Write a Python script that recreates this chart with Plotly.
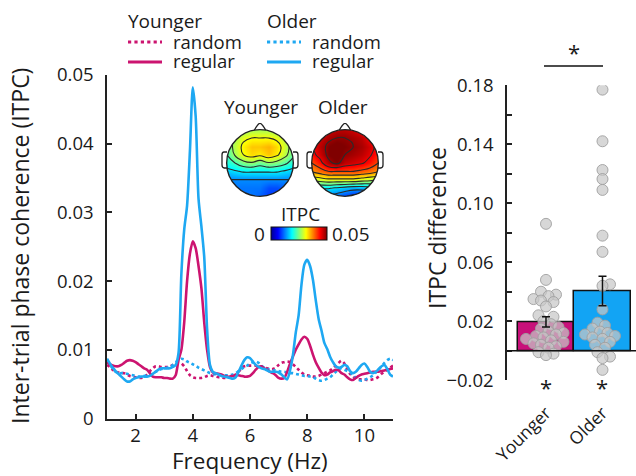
import numpy as np
import plotly.graph_objects as go

# ---------------- data ----------------
freq = [round(1.0 + 0.1 * i, 1) for i in range(101)]

younger_regular = [
    0.0082, 0.0079, 0.0077, 0.0076, 0.0076, 0.0078, 0.0081, 0.0084, 0.0085, 0.0084,
    0.0082, 0.0079, 0.0076, 0.0073, 0.0071, 0.0066, 0.0061, 0.0060, 0.0060, 0.0060,
    0.0059, 0.0059, 0.0058, 0.0058, 0.0063, 0.0085, 0.0100, 0.0140, 0.0200, 0.0240,
    0.0258, 0.0248, 0.0222, 0.0190, 0.0140, 0.0100, 0.0075, 0.0067, 0.0066, 0.0065,
    0.0064, 0.0062, 0.0061, 0.0061, 0.0062, 0.0063, 0.0063, 0.0062, 0.0061, 0.0061,
    0.0062, 0.0066, 0.0071, 0.0075, 0.0076, 0.0073, 0.0071, 0.0068, 0.0066, 0.0063,
    0.0059, 0.0058, 0.0059, 0.0068, 0.0080, 0.0090, 0.0100, 0.0108, 0.0115, 0.0119,
    0.0116, 0.0106, 0.0093, 0.0082, 0.0074, 0.0067, 0.0063, 0.0064, 0.0067, 0.0069,
    0.0071, 0.0070, 0.0066, 0.0064, 0.0060, 0.0057, 0.0056, 0.0059, 0.0062, 0.0064,
    0.0065, 0.0066, 0.0067, 0.0068, 0.0068, 0.0068, 0.0069, 0.0070, 0.0071, 0.0072,
    0.0073,
]
younger_random = [
    0.0078, 0.0075, 0.0071, 0.0068, 0.0067, 0.0066, 0.0066, 0.0064, 0.0062, 0.0061,
    0.0060, 0.0059, 0.0059, 0.0060, 0.0064, 0.0069, 0.0073, 0.0076, 0.0076, 0.0075,
    0.0075, 0.0075, 0.0076, 0.0078, 0.0080, 0.0081, 0.0080, 0.0076, 0.0069, 0.0063,
    0.0060, 0.0059, 0.0059, 0.0059, 0.0060, 0.0062, 0.0063, 0.0062, 0.0061, 0.0060,
    0.0060, 0.0059, 0.0059, 0.0060, 0.0062, 0.0064, 0.0068, 0.0073, 0.0076, 0.0077,
    0.0077, 0.0077, 0.0077, 0.0076, 0.0075, 0.0074, 0.0073, 0.0072, 0.0072, 0.0074,
    0.0078, 0.0081, 0.0082, 0.0083, 0.0082, 0.0079, 0.0075, 0.0071, 0.0067, 0.0064,
    0.0063, 0.0062, 0.0061, 0.0061, 0.0062, 0.0064, 0.0066, 0.0068, 0.0070, 0.0073,
    0.0077, 0.0081, 0.0084, 0.0080, 0.0072, 0.0065, 0.0061, 0.0058, 0.0057, 0.0057,
    0.0057, 0.0056, 0.0056, 0.0057, 0.0058, 0.0061, 0.0065, 0.0068, 0.0071, 0.0074,
    0.0077,
]
older_regular = [
    0.0087, 0.0080, 0.0074, 0.0069, 0.0065, 0.0061, 0.0057, 0.0054, 0.0054, 0.0057,
    0.0059, 0.0060, 0.0061, 0.0061, 0.0061, 0.0062, 0.0065, 0.0068, 0.0071, 0.0073,
    0.0073, 0.0073, 0.0073, 0.0075, 0.0078, 0.0095, 0.0210, 0.0275, 0.0310, 0.0390,
    0.0482, 0.0440, 0.0320, 0.0280, 0.0235, 0.0130, 0.0078, 0.0068, 0.0066, 0.0064,
    0.0062, 0.0061, 0.0060, 0.0059, 0.0058, 0.0060, 0.0068, 0.0077, 0.0085, 0.0089,
    0.0088, 0.0083, 0.0078, 0.0075, 0.0073, 0.0072, 0.0070, 0.0068, 0.0068, 0.0068,
    0.0067, 0.0064, 0.0060, 0.0057, 0.0070, 0.0092, 0.0125, 0.0150, 0.0195, 0.0224,
    0.0231, 0.0222, 0.0202, 0.0172, 0.0145, 0.0128, 0.0110, 0.0101, 0.0090, 0.0082,
    0.0076, 0.0074, 0.0075, 0.0078, 0.0076, 0.0069, 0.0066, 0.0068, 0.0073, 0.0078,
    0.0080, 0.0075, 0.0068, 0.0066, 0.0068, 0.0072, 0.0076, 0.0078, 0.0072, 0.0064,
    0.0061,
]
older_random = [
    0.0083, 0.0078, 0.0073, 0.0068, 0.0066, 0.0066, 0.0066, 0.0065, 0.0064, 0.0063,
    0.0062, 0.0061, 0.0061, 0.0062, 0.0063, 0.0063, 0.0066, 0.0068, 0.0070, 0.0072,
    0.0073, 0.0074, 0.0075, 0.0078, 0.0082, 0.0085, 0.0087, 0.0086, 0.0083, 0.0081,
    0.0079, 0.0077, 0.0074, 0.0072, 0.0070, 0.0068, 0.0066, 0.0065, 0.0064, 0.0063,
    0.0063, 0.0063, 0.0063, 0.0063, 0.0064, 0.0066, 0.0069, 0.0072, 0.0075, 0.0077,
    0.0080, 0.0082, 0.0083, 0.0081, 0.0077, 0.0074, 0.0072, 0.0071, 0.0070, 0.0070,
    0.0069, 0.0068, 0.0068, 0.0067, 0.0066, 0.0066, 0.0065, 0.0064, 0.0063, 0.0062,
    0.0062, 0.0061, 0.0060, 0.0058, 0.0056, 0.0055, 0.0056, 0.0058, 0.0060, 0.0064,
    0.0068, 0.0072, 0.0073, 0.0071, 0.0069, 0.0067, 0.0063, 0.0059, 0.0056, 0.0055,
    0.0056, 0.0058, 0.0060, 0.0063, 0.0067, 0.0071, 0.0076, 0.0081, 0.0085, 0.0087,
    0.0085,
]

freq_ticks = [2, 4, 6, 8, 10]
itpc_ticks = [0, 0.01, 0.02, 0.03, 0.04, 0.05]
itpc_ticktext = ["0", "0.01", "0.02", "0.03", "0.04", "0.05"]

groups = ["Younger", "Older"]
conditions = ["random", "regular"]
diff_mean = [0.0195, 0.0405]
diff_sem = [0.0035, 0.0100]
diff_younger = [0.086, 0.048, 0.040, 0.038, 0.037, 0.035, 0.034, 0.033, 0.030, 0.024,
                0.023, 0.020, 0.018, 0.016, 0.015, 0.013, 0.012, 0.011, 0.010, 0.009,
                0.008, 0.007, 0.006, 0.005, 0.004, 0.003, 0.002, -0.001, -0.002, -0.003]
diff_older = [0.177, 0.142, 0.1225, 0.1164, 0.109, 0.078, 0.067, 0.045, 0.044, 0.028,
              0.019, 0.017, 0.015, 0.013, 0.012, 0.011, 0.010, 0.009, 0.008, 0.006,
              0.004, 0.002, -0.001, -0.004, -0.005, -0.013]
diff_ticks = [-0.02, 0.02, 0.06, 0.10, 0.14, 0.18]
diff_ticktext = ["\u22120.02", "0.02", "0.06", "0.10", "0.14", "0.18"]
diff_minor = [0, 0.04, 0.08, 0.12, 0.16]

# topographies (rows front -> back, columns left -> right)
topo_younger = [
    [0.024, 0.025, 0.026, 0.027, 0.027, 0.027, 0.026, 0.025, 0.024],
    [0.024, 0.027, 0.030, 0.031, 0.031, 0.031, 0.030, 0.028, 0.025],
    [0.023, 0.028, 0.032, 0.034, 0.034, 0.035, 0.033, 0.029, 0.024],
    [0.022, 0.027, 0.031, 0.033, 0.032, 0.034, 0.032, 0.028, 0.023],
    [0.020, 0.022, 0.025, 0.026, 0.024, 0.026, 0.025, 0.023, 0.020],
    [0.016, 0.017, 0.018, 0.018, 0.018, 0.018, 0.018, 0.017, 0.016],
    [0.013, 0.013, 0.013, 0.013, 0.013, 0.013, 0.013, 0.013, 0.013],
    [0.012, 0.012, 0.012, 0.012, 0.012, 0.010, 0.010, 0.011, 0.012],
    [0.012, 0.012, 0.012, 0.012, 0.011, 0.009, 0.009, 0.010, 0.011],
]
topo_older = [
    [0.040, 0.044, 0.046, 0.047, 0.047, 0.046, 0.044, 0.042, 0.040],
    [0.043, 0.046, 0.048, 0.049, 0.049, 0.048, 0.047, 0.044, 0.041],
    [0.044, 0.047, 0.050, 0.051, 0.050, 0.049, 0.048, 0.046, 0.043],
    [0.043, 0.046, 0.050, 0.051, 0.049, 0.048, 0.047, 0.045, 0.042],
    [0.040, 0.043, 0.048, 0.050, 0.047, 0.046, 0.045, 0.043, 0.040],
    [0.036, 0.038, 0.040, 0.040, 0.040, 0.040, 0.039, 0.038, 0.036],
    [0.028, 0.029, 0.030, 0.030, 0.030, 0.030, 0.029, 0.028, 0.027],
    [0.018, 0.018, 0.018, 0.017, 0.016, 0.015, 0.015, 0.016, 0.017],
    [0.012, 0.012, 0.012, 0.011, 0.009, 0.007, 0.007, 0.008, 0.010],
]
itpc_scale = [0, 0.05]

# ---------------- styling ----------------
W, H = 636, 476
FONT = "Open Sans"
MAG = "#CC1470"
BLU = "#1EA8F2"
BAR_MAG = "#C8107A"
BAR_BLU = "#12A4F4"
TXT = "#1a1a1a"
JET = [[0, "#00008F"], [0.125, "#0000FF"], [0.375, "#00FFFF"],
       [0.625, "#FFFF00"], [0.875, "#FF0000"], [1, "#800000"]]


def px_x(p):
    return p / W


def px_y(p):
    return (H - p) / H


fig = go.Figure()

# ---------------- spectrum panel ----------------
line_specs = [
    (younger_random, MAG, "dot"),
    (older_random, BLU, "dot"),
    (younger_regular, MAG, "solid"),
    (older_regular, BLU, "solid"),
]
for vals, col, dash in line_specs:
    fig.add_trace(go.Scatter(
        x=freq, y=vals, mode="lines", showlegend=False,
        line=dict(color=col, width=2.6, dash=dash, shape="spline", smoothing=0.7),
        xaxis="x", yaxis="y", hoverinfo="skip"))

# ---------------- bar panel ----------------
fig.add_trace(go.Bar(
    x=[0, 1], y=diff_mean, width=[1.0, 1.0],
    marker=dict(color=[BAR_MAG, BAR_BLU], line=dict(color="#111", width=1.5)),
    xaxis="x2", yaxis="y2", showlegend=False, hoverinfo="skip"))

# simple beeswarm layout in pixel space
Y_PX_PER_UNIT = (380.2 - 85.2) / 0.20
X_PX_PER_UNIT = 56.5
MIN_D = 7.5


def swarm(values):
    order = np.argsort(values)
    placed = []
    offs = np.zeros(len(values))
    cands = [0.0]
    for k in range(1, 12):
        cands += [k * 2.5, -k * 2.5]
    for i in order:
        yp = values[i] * Y_PX_PER_UNIT
        chosen = cands[-1]
        for c in cands:
            if all((c - px) ** 2 + (yp - py) ** 2 >= MIN_D ** 2 for px, py in placed):
                chosen = c
                break
        placed.append((chosen, yp))
        offs[i] = chosen / X_PX_PER_UNIT
    return offs


for gi, vals in enumerate([diff_younger, diff_older]):
    offs = swarm(vals)
    fig.add_trace(go.Scatter(
        x=gi + offs, y=vals, mode="markers",
        marker=dict(size=11, color="rgba(200,200,200,0.72)",
                    line=dict(color="rgba(160,160,160,0.9)", width=1)),
        xaxis="x2", yaxis="y2", showlegend=False, hoverinfo="skip"))

fig.add_trace(go.Scatter(
    x=[0, 1], y=diff_mean, mode="markers", marker=dict(size=1, color="rgba(0,0,0,0)"),
    error_y=dict(type="data", array=diff_sem, color="#111", thickness=1.5, width=4),
    xaxis="x2", yaxis="y2", showlegend=False, hoverinfo="skip"))

# ---------------- topographies ----------------
grid = np.linspace(-1, 1, 9)
head_axes = [("x3", "y3", topo_younger), ("x4", "y4", topo_older)]
for xa, ya, topo in head_axes:
    fig.add_trace(go.Contour(
        x=grid, y=grid, z=topo[::-1], xaxis=xa, yaxis=ya,
        colorscale=JET, zmin=itpc_scale[0], zmax=itpc_scale[1], showscale=False,
        contours=dict(coloring="heatmap", start=0.004, end=0.05, size=0.0045,
                      showlines=True),
        line=dict(color="#2a2a2a", width=1.1, smoothing=1.3),
        hoverinfo="skip"))

# colour scale (smooth), drawn by a heatmap that lies outside its visible axis range
fig.add_trace(go.Heatmap(
    z=[itpc_scale], x=[5, 6], y=[5], xaxis="x3", yaxis="y3",
    colorscale=JET, zmin=itpc_scale[0], zmax=itpc_scale[1], showscale=True,
    colorbar=dict(orientation="h", x=px_x(298.7), xanchor="center",
                  y=px_y(240.5), yanchor="bottom", len=56 / W, lenmode="fraction",
                  thickness=13, thicknessmode="pixels", showticklabels=False,
                  ticks="", outlinewidth=1, outlinecolor="#111", xpad=0, ypad=0),
    hoverinfo="skip"))

shapes = []
theta = np.linspace(0, 2 * np.pi, 120)
circ = " ".join(f"L {np.cos(t):.4f} {np.sin(t):.4f}" for t in theta[1:])
mask_path = (f"M -1.3 -1.3 L 1.3 -1.3 L 1.3 1.3 L -1.3 1.3 Z "
             f"M 1 0 {circ} Z")
for xa, ya, _ in head_axes:
    shapes.append(dict(type="path", xref=xa, yref=ya, path=mask_path,
                       fillcolor="white", fillrule="evenodd",
                       line=dict(width=0), layer="above"))
    shapes.append(dict(type="circle", xref=xa, yref=ya, x0=-1, y0=-1, x1=1, y1=1,
                       line=dict(color="#222", width=1.4), layer="above"))
    shapes.append(dict(type="path", xref=xa, yref=ya,
                       path="M -0.17 0.985 Q -0.05 1.2 0 1.19 Q 0.05 1.2 0.17 0.985",
                       line=dict(color="#222", width=1.3), layer="above"))
    for s in (-1, 1):
        shapes.append(dict(type="path", xref=xa, yref=ya,
                           path=(f"M {s*0.99} 0.33 L {s*1.08} 0.33 Q {s*1.14} 0.33 {s*1.14} 0.24 "
                                 f"L {s*1.14} -0.06 Q {s*1.14} -0.14 {s*1.07} -0.15 L {s*0.99} -0.15"),
                           line=dict(color="#222", width=1.3), layer="above"))

# legend keys (two column groups)
legend_cols = [(128, MAG, groups[0]), (267, BLU, groups[1])]
legend_rows = [(42, "dot"), (62, "solid")]
for lx, col, _ in legend_cols:
    for ly, dash in legend_rows:
        shapes.append(dict(type="line", xref="paper", yref="paper",
                           x0=px_x(lx), x1=px_x(lx + 34), y0=px_y(ly), y1=px_y(ly),
                           line=dict(color=col, width=3.2, dash=dash)))

# bar panel decorations
shapes.append(dict(type="line", xref="paper", yref="y2", x0=px_x(507), x1=1.0,
                   y0=0, y1=0, line=dict(color="#111", width=1.5), layer="above"))
shapes.append(dict(type="line", xref="paper", yref="paper", x0=px_x(544), x1=px_x(603),
                   y0=px_y(66), y1=px_y(66), line=dict(color="#111", width=1.6)))

ann = []


def text(x, y, s, size=19, angle=0, xanchor="center", yanchor="middle"):
    ann.append(dict(x=px_x(x), y=px_y(y), xref="paper", yref="paper", text=s,
                    showarrow=False, textangle=angle, xanchor=xanchor, yanchor=yanchor,
                    font=dict(size=size, family=FONT, color=TXT)))


for lx, col, gname in legend_cols:
    text(lx - 2, 21, gname, size=19, xanchor="left")
    for (ly, _), cname in zip(legend_rows, conditions):
        text(lx + 43, ly - 1, cname, size=18.5, xanchor="left")

text(20, 246, "Inter-trial phase coherence (ITPC)", size=23, angle=-90)
text(250, 460, "Frequency (Hz)", size=22.5)
text(437, 228, "ITPC difference", size=23, angle=-90)
text(260.5, 107, groups[0], size=19)
text(342.5, 107, groups[1], size=19)
text(300, 214, "ITPC", size=19)
text(259, 233.5, "0", size=19)
text(350.5, 233.5, "0.05", size=19)
text(574, 52, "*", size=22)
text(546, 387, "*", size=22)
text(602, 387, "*", size=22)

axis_common = dict(showgrid=False, zeroline=False, showline=True, linecolor="#222",
                   linewidth=1.5, ticks="inside", ticklen=5, tickwidth=1.5,
                   tickcolor="#222", automargin=False,
                   tickfont=dict(size=18.5, family=FONT, color=TXT))
hidden = dict(visible=False, fixedrange=True, automargin=False, range=[-1.2, 1.2])

fig.update_layout(
    width=W, height=H, margin=dict(l=0, r=0, t=0, b=0, autoexpand=False),
    paper_bgcolor="white", plot_bgcolor="white", showlegend=False,
    font=dict(family=FONT, color=TXT),
    xaxis=dict(domain=[px_x(107), px_x(393)], range=[1, 11], anchor="y",
               tickvals=freq_ticks, ticklabelstandoff=0, **axis_common),
    yaxis=dict(domain=[px_y(418.5), px_y(75)], range=[0, 0.05], anchor="x",
               tickvals=itpc_ticks, ticktext=itpc_ticktext, ticklabelstandoff=8,
               **axis_common),
    xaxis2=dict(domain=[px_x(507), 1.0], range=[-0.69, 1.593], anchor="y2",
                showgrid=False, zeroline=False, showline=False, ticks="",
                automargin=False, tickvals=[0, 1], ticktext=groups, tickangle=-45,
                ticklabelstandoff=18, tickfont=dict(size=17.5, family=FONT, color=TXT)),
    yaxis2=dict(domain=[px_y(380.2), px_y(85.2)], range=[-0.02, 0.18], anchor="x2",
                tickvals=diff_ticks, ticktext=diff_ticktext, ticklabelstandoff=8,
                minor=dict(tickvals=diff_minor, ticks="inside", ticklen=5,
                           tickwidth=1.5, tickcolor="#222"),
                **axis_common),
    xaxis3=dict(domain=[px_x(220), px_x(300)], anchor="y3", **hidden),
    yaxis3=dict(domain=[px_y(203), px_y(123)], anchor="x3", **hidden),
    xaxis4=dict(domain=[px_x(305), px_x(385)], anchor="y4", **hidden),
    yaxis4=dict(domain=[px_y(203), px_y(123)], anchor="x4", **hidden),
    shapes=shapes, annotations=ann, bargap=0,
)

fig.write_html("out.html", config={"displayModeBar": False},
               post_script="document.body.style.margin='0';document.body.style.overflow='hidden';")
